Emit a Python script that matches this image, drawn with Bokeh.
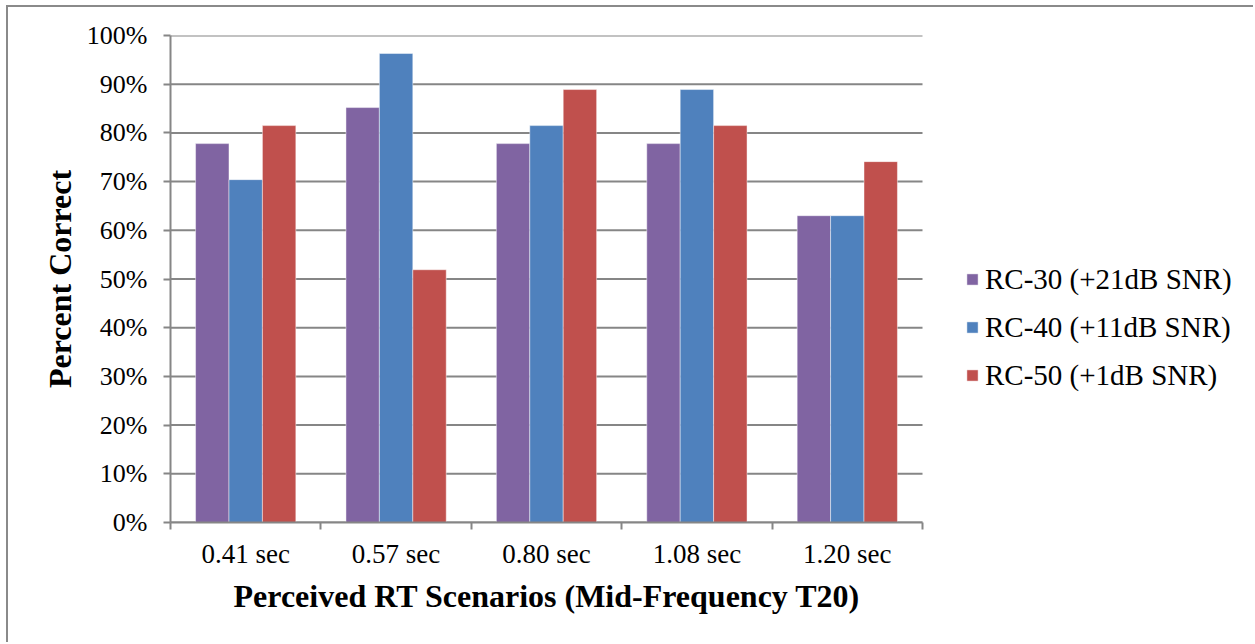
from bokeh.plotting import figure
from bokeh.models import (ColumnDataSource, FixedTicker, NumeralTickFormatter,
                          Legend, LegendItem, Range1d, Title)
from bokeh.embed import file_html
from bokeh.resources import INLINE

categories = ["0.41 sec", "0.57 sec", "0.80 sec", "1.08 sec", "1.20 sec"]
series_names = ["RC-30 (+21dB SNR)", "RC-40 (+11dB SNR)", "RC-50 (+1dB SNR)"]
rc30 = [0.778, 0.852, 0.778, 0.778, 0.630]
rc40 = [0.704, 0.963, 0.815, 0.889, 0.630]
rc50 = [0.815, 0.519, 0.889, 0.815, 0.741]
y_ticks = [0.0, 0.1, 0.2, 0.3, 0.4, 0.5, 0.6, 0.7, 0.8, 0.9, 1.0]
colors = ["#8064A2", "#4F81BD", "#C0504D"]
x_title = "Perceived RT Scenarios (Mid-Frequency T20)"
y_title = "Percent Correct"

FONT = "Liberation Serif"
GRID = "#868686"

W, H = 1247, 637
LEFT, TOP, BOTTOM = 162, 28, 122
PLOT_W = 752  # pixel width of the category area
n = len(categories)
frame_w = W - LEFT
x_end = n * frame_w / PLOT_W

p = figure(width=W, height=H, output_backend="svg", toolbar_location=None,
           x_range=Range1d(0, x_end), y_range=Range1d(0, 1),
           min_border_left=LEFT, min_border_right=0, min_border_top=TOP,
           min_border_bottom=BOTTOM)
p.styles = {"position": "absolute", "left": "6px", "top": "5px",
            "border-left": "2px solid #8a8a8a", "border-top": "2px solid #8a8a8a"}
p.outline_line_color = None
p.background_fill_color = "white"
p.border_fill_color = "white"

# horizontal gridlines, limited to the category area
p.segment(x0=[0] * len(y_ticks), x1=[n] * len(y_ticks), y0=y_ticks, y1=y_ticks,
          line_color=GRID, line_width=2)

bw = 1 / 4.5
centers = [i + 0.5 for i in range(n)]
items = []
for k, (vals, c, name) in enumerate(zip([rc30, rc40, rc50], colors, series_names)):
    xs = [cx + (k - 1) * bw for cx in centers]
    src = ColumnDataSource(dict(x=xs, top=vals))
    r = p.vbar(x="x", top="top", width=bw, bottom=0, source=src,
               fill_color=c, line_color="white", line_alpha=0.45, line_width=1)
    items.append(LegendItem(label=name, renderers=[r]))

# x axis: labels at centres, tick marks at category boundaries
p.xaxis.bounds = (0, n)
p.xaxis.ticker = FixedTicker(ticks=centers, minor_ticks=list(range(n + 1)))
p.xaxis.major_label_overrides = {c: lab for c, lab in zip(centers, categories)}
p.xaxis.major_tick_out = 0
p.xaxis.major_tick_in = 0
p.xaxis.minor_tick_out = 7
p.xaxis.minor_tick_in = 0
p.xaxis.minor_tick_line_color = GRID
p.xaxis.minor_tick_line_width = 2
p.xaxis.axis_line_color = GRID
p.xaxis.axis_line_width = 2
p.xaxis.major_label_standoff = 9
p.xaxis.major_label_text_font_size = "27px"

p.yaxis.ticker = FixedTicker(ticks=y_ticks)
p.yaxis.formatter = NumeralTickFormatter(format="0%")
p.yaxis.major_tick_out = 7
p.yaxis.major_tick_in = 0
p.yaxis.minor_tick_line_color = None
p.yaxis.major_tick_line_color = GRID
p.yaxis.major_tick_line_width = 2
p.yaxis.axis_line_color = GRID
p.yaxis.axis_line_width = 2
p.yaxis.major_label_standoff = 16
p.yaxis.major_label_text_font_size = "26px"
p.yaxis.axis_label = y_title
p.yaxis.axis_label_standoff = 6

for ax in (p.xaxis, p.yaxis):
    ax.major_label_text_font = FONT
    ax.major_label_text_color = "black"
    ax.axis_label_text_font = FONT
    ax.axis_label_text_font_size = "32px"
    ax.axis_label_text_font_style = "bold"
    ax.axis_label_text_color = "black"

p.xgrid.visible = False
p.ygrid.visible = False

# x-axis title, centred under the category area
t = Title(text=x_title, align="left", offset=63, text_font=FONT,
          text_font_size="32px", text_font_style="bold", text_color="black",
          standoff=8)
p.add_layout(t, "below")

legend = Legend(items=items, location=(795, 123), orientation="vertical",
                label_text_font=FONT, label_text_font_size="29px",
                label_text_color="black", glyph_width=14, glyph_height=14,
                label_standoff=6, label_height=48, spacing=0, padding=0,
                margin=0, border_line_color=None, background_fill_alpha=0)
p.add_layout(legend, "center")

open("out.html", "w").write(file_html(p, INLINE))
